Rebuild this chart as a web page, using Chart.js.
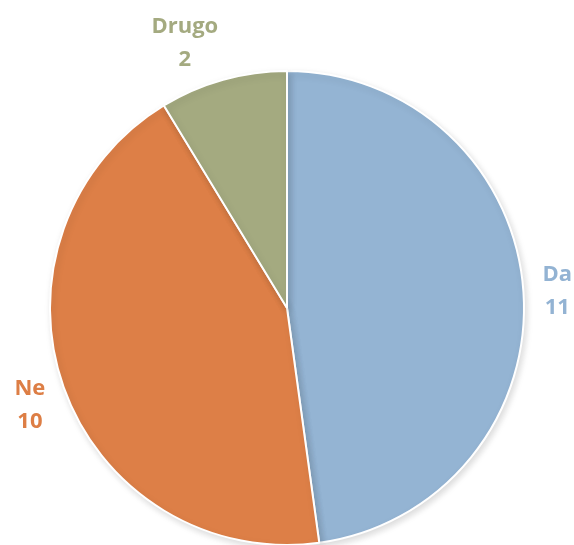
<!DOCTYPE html>
<html>
<head>
<meta charset="utf-8">
<script src="https://cdn.jsdelivr.net/npm/chart.js@4/dist/chart.umd.min.js"></script>
<style>
html,body{margin:0;padding:0;background:#fff;overflow:hidden;}
#wrap{width:574px;height:546px;}
</style>
</head>
<body>
<div id="wrap"><canvas id="c" width="574" height="546"></canvas></div>
<script>
const categories = ['Da', 'Ne', 'Drugo'];
const values = [11, 10, 2];
const colors = ['#94B4D3', '#DD7F47', '#A4AA80'];
const labelColors = ['#93B3D3', '#DD7E45', '#A4AA80'];

const outsideLabels = {
  id: 'outsideLabels',
  afterDatasetsDraw(chart, args, opts) {
    const ctx = chart.ctx;
    const meta = chart.getDatasetMeta(0);
    ctx.save();
    ctx.font = 'bold 22px "Open Sans", sans-serif';
    ctx.textAlign = 'center';
    ctx.textBaseline = 'middle';
    meta.data.forEach((arc, i) => {
      const p = arc.getProps(['x','y','startAngle','endAngle','outerRadius'], true);
      const mid = (p.startAngle + p.endAngle) / 2;
      const d = p.outerRadius + opts.gap;
      const sh = opts.shift[i] || [0,0];
      const cx = p.x + Math.cos(mid) * d + sh[0];
      const cy = p.y + Math.sin(mid) * d + sh[1];
      ctx.fillStyle = labelColors[i];
      ctx.fillText(categories[i], cx, cy - 16);
      ctx.fillText(String(values[i]), cx, cy + 17);
    });
    ctx.restore();
  }
};

const shadowPlugin = {
  id: 'shadowPlugin',
  beforeDatasetsDraw(chart) {
    const ctx = chart.ctx;
    ctx.save();
    ctx.shadowColor = 'rgba(0,0,0,0.14)';
    ctx.shadowBlur = 7;
    ctx.shadowOffsetX = 2;
    ctx.shadowOffsetY = 3;
  },
  afterDatasetsDraw(chart) {
    chart.ctx.restore();
  }
};

new Chart(document.getElementById('c'), {
  type: 'pie',
  data: {
    labels: categories,
    datasets: [{
      data: values,
      backgroundColor: colors,
      borderColor: '#ffffff',
      borderWidth: 2
    }]
  },
  options: {
    responsive: false,
    animation: false,
    layout: { padding: { top: 70, left: 49, right: 49, bottom: 0 } },
    plugins: {
      legend: { display: false },
      tooltip: { enabled: false },
      outsideLabels: { gap: 38, shift: [[-4, 2], [2, 5], [-28, 0]] }
    }
  },
  plugins: [shadowPlugin, outsideLabels]
});
</script>
</body>
</html>
